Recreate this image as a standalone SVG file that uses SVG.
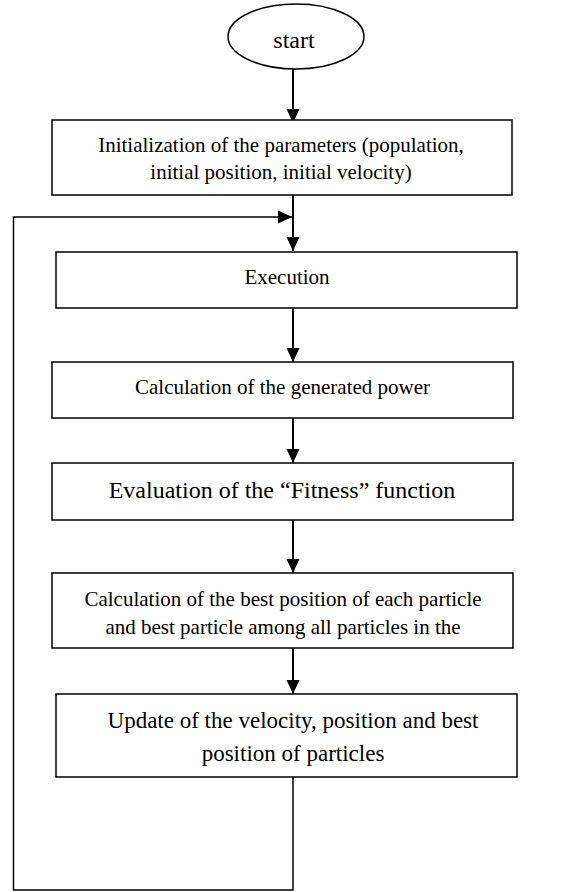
<svg xmlns="http://www.w3.org/2000/svg" width="584" height="892" viewBox="0 0 584 892">
<style>
.box{fill:#fff;stroke:#000;stroke-width:1.5}
.t{font-family:"Liberation Serif","Times New Roman",serif;fill:#000;text-anchor:middle}
.c{fill:none;stroke:#000;stroke-width:2}
.l{fill:none;stroke:#000;stroke-width:1.5}
</style>
<defs>
<marker id="ah" markerUnits="userSpaceOnUse" markerWidth="14" markerHeight="14" viewBox="0 0 14 14" refX="14" refY="7" orient="auto">
<path d="M0,0.5 L14,7 L0,13.5 Z" fill="#000"/>
</marker>
</defs>
<g id="connectors">
<line class="c" x1="293" y1="69" x2="293" y2="123" marker-end="url(#ah)"/>
<line class="c" x1="293" y1="195" x2="293" y2="251" marker-end="url(#ah)"/>
<line class="c" x1="293" y1="308" x2="293" y2="362" marker-end="url(#ah)"/>
<line class="c" x1="293" y1="418" x2="293" y2="463" marker-end="url(#ah)"/>
<line class="c" x1="293" y1="520" x2="293" y2="573" marker-end="url(#ah)"/>
<line class="c" x1="293" y1="648" x2="293" y2="694" marker-end="url(#ah)"/>
<path class="l" d="M293,777 L293,890 L13.5,890 L13.5,217 L292,217" marker-end="url(#ah)"/>
</g>
<g id="start">
<ellipse class="box" cx="296" cy="36.5" rx="68" ry="32.5"/>
<text class="t" x="294" y="48" font-size="24">start</text>
</g>
<g id="init">
<rect class="box" x="52" y="120" width="460" height="75"/>
<text class="t" x="281" y="152" font-size="21">Initialization of the parameters (population,</text>
<text class="t" x="281" y="179" font-size="21">initial position, initial velocity)</text>
</g>
<g id="execution">
<rect class="box" x="56" y="252" width="461" height="56"/>
<text class="t" x="287" y="284" font-size="21">Execution</text>
</g>
<g id="power">
<rect class="box" x="52" y="362" width="461" height="56"/>
<text class="t" x="282.5" y="394" font-size="21">Calculation of the generated power</text>
</g>
<g id="fitness">
<rect class="box" x="52" y="463" width="461" height="57"/>
<text class="t" x="282" y="498" font-size="24">Evaluation of the “Fitness” function</text>
</g>
<g id="best">
<rect class="box" x="52" y="573" width="461" height="75"/>
<text class="t" x="283" y="606" font-size="21">Calculation of the best position of each particle</text>
<text class="t" x="283" y="634" font-size="21">and best particle among all particles in the</text>
</g>
<g id="update">
<rect class="box" x="56" y="694" width="461" height="83"/>
<text class="t" x="293" y="728" font-size="23">Update of the velocity, position and best</text>
<text class="t" x="293" y="761" font-size="23">position of particles</text>
</g>
</svg>
